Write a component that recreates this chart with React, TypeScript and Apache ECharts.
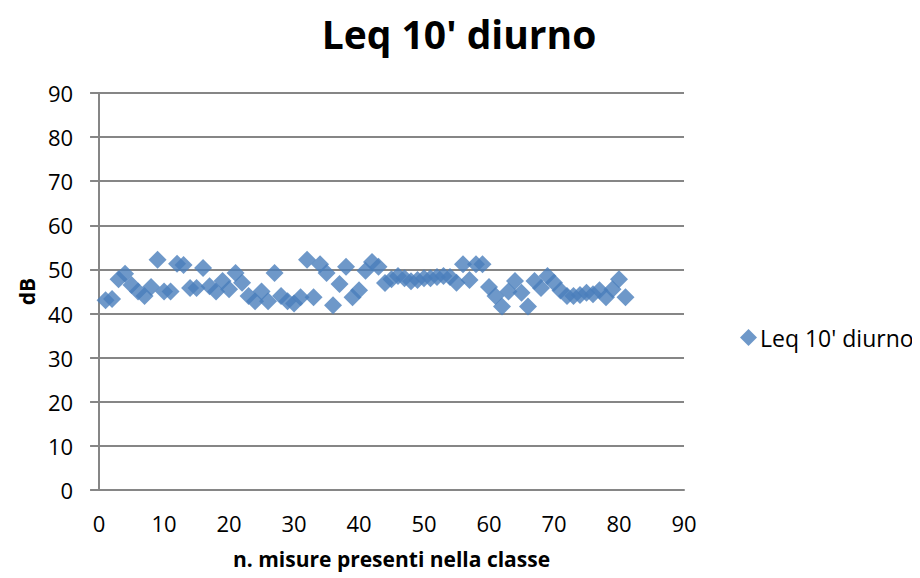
import React, { useEffect, useRef } from "react";
import * as echarts from "echarts";

const xValues: number[] = [
  1, 2, 3, 4, 5, 6, 7, 8, 9, 10, 11, 12, 13, 14, 15, 16, 17, 18, 19, 20,
  21, 22, 23, 24, 25, 26, 27, 28, 29, 30, 31, 32, 33, 34, 35, 36, 37, 38, 39, 40,
  41, 42, 43, 44, 45, 46, 47, 48, 49, 50, 51, 52, 53, 54, 55, 56, 57, 58, 59, 60,
  61, 62, 63, 64, 65, 66, 67, 68, 69, 70, 71, 72, 73, 74, 75, 76, 77, 78, 79, 80, 81,
];
const leqValues: number[] = [
  43.0, 43.3, 47.8, 49.0, 46.5, 45.0, 44.0, 46.0, 52.2, 45.0,
  45.0, 51.3, 51.0, 45.8, 45.8, 50.3, 46.2, 45.0, 47.4, 45.5,
  49.2, 47.0, 44.0, 42.8, 45.0, 42.8, 49.2, 44.0, 42.8, 42.3,
  43.7, 52.2, 43.7, 51.2, 49.2, 41.9, 46.7, 50.6, 43.7, 45.3,
  49.7, 51.7, 50.6, 46.9, 47.8, 48.5, 48.0, 47.3, 47.6, 48.0,
  48.0, 48.3, 48.5, 48.3, 47.0, 51.2, 47.6, 51.2, 51.2, 46.0,
  44.0, 41.6, 45.0, 47.4, 44.7, 41.6, 47.4, 45.8, 48.5, 47.0,
  45.2, 44.0, 44.0, 44.2, 44.7, 44.4, 45.3, 43.7, 45.5, 47.8, 43.7,
];
const seriesName = "Leq 10' diurno";
const titleText = "Leq 10' diurno";
const xAxisName = "n. misure presenti nella classe";
const yAxisName = "dB";

export default function App() {
  const ref = useRef<HTMLDivElement>(null);
  useEffect(() => {
    if (!ref.current) return;
    const chart = echarts.init(ref.current, null, { renderer: "svg" });
    const font = "Open Sans";
    const gray = "#868686";
    chart.setOption({
      animation: false,
      backgroundColor: "#ffffff",
      title: {
        text: titleText,
        left: 446,
        textAlign: "center",
        top: 1,
        textStyle: { fontFamily: font, fontWeight: "bold", fontSize: 39, color: "#000" },
      },
      legend: {
        left: 727,
        top: 313,
        itemWidth: 17,
        itemHeight: 17,
        itemGap: 6,
        data: [{ name: seriesName, icon: "diamond" }],
        textStyle: { fontFamily: font, fontSize: 23, color: "#000", padding: [0, 0, 0, -2] },
      },
      grid: { left: 90, right: 236, top: 85, bottom: 88, containLabel: false },
      xAxis: {
        type: "value",
        min: 0,
        max: 90,
        interval: 10,
        name: xAxisName,
        nameLocation: "middle",
        nameGap: 58,
        nameTextStyle: { fontFamily: font, fontWeight: "bold", fontSize: 21, color: "#000" },
        axisLine: { show: true, onZero: false, lineStyle: { color: gray, width: 2 } },
        axisTick: { show: false },
        splitLine: { show: false },
        axisLabel: { fontFamily: font, fontSize: 22, color: "#000", margin: 22 },
      },
      yAxis: {
        type: "value",
        min: 0,
        max: 90,
        interval: 10,
        name: yAxisName,
        nameLocation: "middle",
        nameGap: 56,
        nameTextStyle: { fontFamily: font, fontWeight: "bold", fontSize: 21, color: "#000" },
        axisLine: { show: true, lineStyle: { color: gray, width: 2 } },
        axisTick: { show: true, inside: false, length: 9, lineStyle: { color: gray, width: 2 } },
        splitLine: { show: true, lineStyle: { color: gray, width: 2 } },
        axisLabel: { fontFamily: font, fontSize: 22, color: "#000", margin: 26 },
      },
      series: [
        {
          name: seriesName,
          type: "scatter",
          symbol: "diamond",
          symbolSize: 18,
          itemStyle: { color: "#4a7ebb" },
          data: xValues.map((x, i) => [x, leqValues[i]]),
        },
      ],
    });
    return () => chart.dispose();
  }, []);
  return <div ref={ref} style={{ width: 912, height: 570 }} />;
}
